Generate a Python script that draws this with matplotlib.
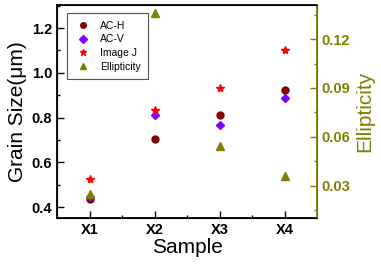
import matplotlib.pyplot as plt
from matplotlib.ticker import MultipleLocator, FixedLocator
import numpy as np

plt.rcParams['font.family'] = ['Liberation Sans', 'DejaVu Sans']

samples = ['X1', 'X2', 'X3', 'X4']
ac_h = [0.436, 0.703, 0.811, 0.921]
ac_v = [0.445, 0.810, 0.768, 0.887]
image_j = [0.525, 0.834, 0.930, 1.103]
ellipticity = [0.0247, 0.1358, 0.0545, 0.0361]

olive = '#808000'
x = np.arange(1, len(samples) + 1)

fig = plt.figure(figsize=(3.81, 2.70), dpi=100)
ax = fig.add_axes([57 / 381, 1 - 218 / 270, 260 / 381, 213 / 270])
ax2 = ax.twinx()

h1, = ax.plot(x, ac_h, 'o', color='#800000', ms=5, label='AC-H')
h2, = ax.plot(x, ac_v, 'D', color='#8000ff', ms=4.5, label='AC-V')
h3, = ax.plot(x, image_j, '*', color='red', ms=6, label='Image J')
h4, = ax2.plot(x, ellipticity, '^', color=olive, ms=5.5, label='Ellipticity')

ax.set_xlim(0.5, 4.5)
ax.set_ylim(0.351, 1.303)
ax2.set_ylim(0.0102, 0.1409)

ax.set_xticks(x)
ax.set_xticklabels(samples, fontweight='bold', fontsize=10.5)
ax.xaxis.set_minor_locator(FixedLocator([1.5, 2.5, 3.5]))
ax.yaxis.set_minor_locator(MultipleLocator(0.1))
ax.set_yticks([0.4, 0.6, 0.8, 1.0, 1.2])
ax.set_yticklabels(['0.4', '0.6', '0.8', '1.0', '1.2'], fontweight='bold', fontsize=10.5)

ax2.set_yticks([0.03, 0.06, 0.09, 0.12])
ax2.set_yticklabels(['0.03', '0.06', '0.09', '0.12'], fontweight='bold', fontsize=10.5, color=olive)
ax2.yaxis.set_minor_locator(MultipleLocator(0.015))

ax.tick_params(which='both', direction='in', width=1)
ax.tick_params(which='major', length=5)
ax.tick_params(which='minor', length=2.5)
ax.tick_params(axis='y', which='both', right=False)
ax2.tick_params(which='both', direction='in', color=olive, width=1)
ax2.tick_params(which='major', length=5)
ax2.tick_params(which='minor', length=2.5)

for s in ['left', 'bottom', 'top']:
    ax.spines[s].set_linewidth(1.3)
ax2.spines['right'].set_color(olive)
ax2.spines['right'].set_linewidth(1.3)

ax.set_xlabel('Sample', fontsize=15, labelpad=1)
ax.set_ylabel('Grain Size(μm)', fontsize=15, labelpad=3)
ax2.set_ylabel('Ellipticity', fontsize=15, color=olive, labelpad=3)

leg = ax.legend(handles=[h1, h2, h3, h4], loc='upper left', fontsize=7.5,
                fancybox=False, edgecolor='#555555', framealpha=1,
                borderpad=0.7, labelspacing=0.35, handletextpad=0.8,
                handlelength=1.6, markerscale=0.8, bbox_to_anchor=(0.02, 0.985))
leg.get_frame().set_linewidth(0.8)

fig.savefig('out.png', dpi=100)
